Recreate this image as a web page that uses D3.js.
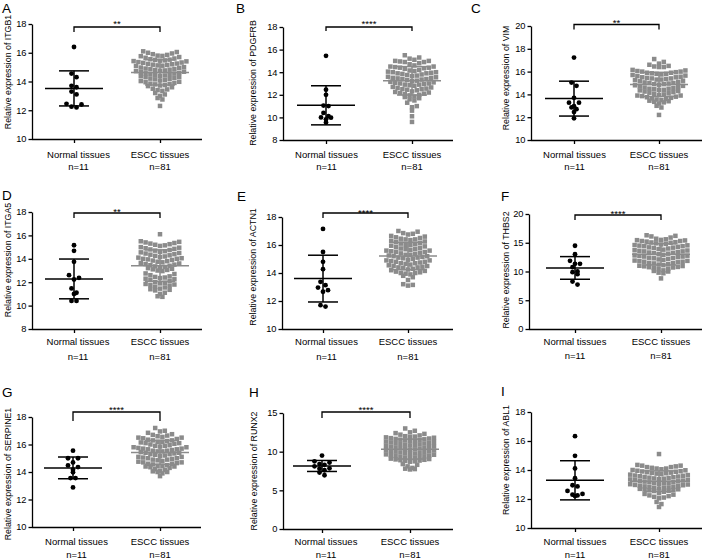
<!DOCTYPE html>
<html><head><meta charset="utf-8">
<script src="https://cdn.jsdelivr.net/npm/d3@7"></script>
<style>body{margin:0;background:#fff} svg{display:block}</style>
</head><body><svg id="c" width="703" height="559"></svg>
<script>
// ---------------- data ----------------
const panelLetters = ["A","B","C","D","E","F","G","H","I"];
const genes = ["ITGB1","PDGFRB","VIM","ITGA5","ACTN1","THBS2","SERPINE1","RUNX2","ABL1"];
const categories = ["Normal tissues","ESCC tissues"];
const sampleLabels = ["n=11","n=81"];
const significance = ["**","****","**","**","****","****","****","****",""];
const yDomains = [[10,18],[8,18],[10,20],[8,18],[10,18],[0,20],[10,18],[0,15],[10,18]];
const yTickSteps = [2,2,2,2,2,5,2,5,2];

const itgb1Normal = [16.4,14.55,14.3,13.7,13.6,13.3,13.1,12.45,12.4,12.25,12.2];
const pdgfrbNormal = [15.45,12.45,12.0,11.05,11.0,10.4,10.1,10.0,9.98,9.83,9.55];
const vimNormal = [17.23,15.04,14.75,13.7,13.27,13.27,12.97,12.86,12.7,12.45,11.9];
const itga5Normal = [15.16,14.68,13.74,12.6,12.37,12.23,11.47,11.1,11.0,10.4,10.4];
const actn1Normal = [17.15,15.5,14.8,14.27,13.37,13.13,12.96,12.77,12.66,11.7,11.6];
const thbs2Normal = [14.48,13.0,11.86,11.34,11.34,10.76,10.0,9.88,9.53,8.26,7.73];
const serpine1Normal = [15.55,15.0,15.0,14.7,14.48,14.36,14.17,13.98,13.56,13.56,12.88];
const runx2Normal = [9.5,8.75,8.6,8.4,8.3,8.1,7.85,7.8,7.6,7.3,6.95];
const abl1Normal = [16.33,14.98,14.11,13.43,12.95,12.87,12.56,12.35,12.3,12.25,12.2];

const normalMean = [13.52,11.07,13.63,12.28,13.6,10.62,14.3,8.15,13.29];
const normalSD = [1.22,1.73,1.53,1.7,1.67,1.97,0.79,0.71,1.35];

const itgb1Escc = [16.1,16.05,16.0,15.95,15.9,15.85,15.8,15.78,15.76,15.7,15.65,15.6,15.55,15.52,15.5,15.47,15.45,15.42,15.4,15.35,15.32,15.3,15.25,15.22,15.2,15.17,15.15,15.12,15.1,15.08,15.0,14.97,14.95,14.9,14.87,14.85,14.82,14.8,14.77,14.75,14.72,14.68,14.65,14.6,14.57,14.55,14.5,14.47,14.45,14.42,14.4,14.37,14.32,14.3,14.25,14.2,14.17,14.15,14.1,14.07,14.03,13.98,13.95,13.9,13.85,13.82,13.8,13.75,13.72,13.68,13.6,13.5,13.45,13.4,13.35,13.2,13.1,13.0,12.85,12.75,12.3];
const pdgfrbEscc = [15.5,15.3,15.2,15.1,15.0,15.0,14.95,14.9,14.9,14.8,14.7,14.6,14.5,14.5,14.45,14.4,14.4,14.35,14.3,14.2,14.15,14.1,14.05,14.0,14.0,13.95,13.9,13.9,13.85,13.8,13.75,13.7,13.65,13.6,13.55,13.5,13.5,13.45,13.4,13.4,13.35,13.3,13.25,13.2,13.15,13.1,13.05,13.0,13.0,12.95,12.9,12.9,12.85,12.8,12.7,12.65,12.6,12.55,12.5,12.5,12.45,12.4,12.3,12.25,12.2,12.15,12.1,12.05,12.0,11.95,11.85,11.8,11.7,11.6,11.5,11.3,11.0,10.9,10.6,10.1,9.6];
const vimEscc = [17.1,16.85,16.7,16.6,16.5,16.45,16.4,16.4,16.15,16.1,16.05,16.0,16.0,15.95,15.9,15.9,15.85,15.8,15.8,15.75,15.7,15.65,15.6,15.55,15.5,15.5,15.45,15.4,15.4,15.35,15.3,15.3,15.25,15.2,15.15,15.1,15.05,15.0,15.0,14.95,14.9,14.9,14.85,14.8,14.75,14.7,14.65,14.6,14.55,14.5,14.5,14.45,14.4,14.4,14.35,14.3,14.25,14.2,14.15,14.1,14.05,14.0,13.95,13.9,13.9,13.85,13.8,13.75,13.7,13.65,13.6,13.55,13.5,13.45,13.4,13.35,13.3,13.2,13.0,12.85,12.2];
const itga5Escc = [16.1,15.5,15.45,15.4,15.35,15.3,15.25,15.2,15.15,15.1,15.0,14.95,14.9,14.85,14.8,14.75,14.7,14.65,14.6,14.55,14.5,14.45,14.4,14.35,14.3,14.25,14.2,14.15,14.1,14.05,14.0,14.0,13.95,13.9,13.85,13.8,13.75,13.7,13.65,13.6,13.55,13.5,13.45,13.4,13.35,13.3,13.25,13.2,13.15,13.1,13.05,13.0,12.95,12.75,12.7,12.6,12.5,12.45,12.4,12.35,12.3,12.25,12.2,12.1,12.0,11.95,11.9,11.85,11.8,11.75,11.7,11.6,11.55,11.45,11.4,11.35,11.3,11.1,11.0,10.8,10.75];
const actn1Escc = [17.0,16.95,16.85,16.8,16.75,16.65,16.6,16.55,16.5,16.45,16.4,16.4,16.35,16.3,16.25,16.2,16.15,16.1,16.05,16.0,16.0,15.95,15.9,15.85,15.8,15.75,15.7,15.7,15.65,15.6,15.6,15.55,15.5,15.5,15.45,15.4,15.35,15.3,15.3,15.25,15.2,15.2,15.15,15.1,15.1,15.05,15.0,14.95,14.9,14.9,14.85,14.8,14.8,14.75,14.7,14.7,14.65,14.6,14.55,14.5,14.5,14.45,14.4,14.4,14.35,14.3,14.25,14.2,14.15,14.1,14.05,14.0,14.0,13.95,13.9,13.8,13.7,13.5,13.2,13.15,13.1];
const thbs2Escc = [16.3,16.2,16.1,15.9,15.7,15.6,15.5,15.45,15.4,15.3,15.3,15.2,15.1,15.05,15.0,14.9,14.8,14.7,14.6,14.55,14.5,14.4,14.4,14.3,14.2,14.15,14.1,14.0,13.9,13.8,13.7,13.65,13.6,13.5,13.5,13.4,13.3,13.25,13.2,13.1,13.0,12.9,12.8,12.75,12.7,12.6,12.6,12.5,12.4,12.35,12.3,12.2,12.1,12.0,11.9,11.85,11.8,11.7,11.7,11.6,11.5,11.45,11.4,11.3,11.2,11.1,11.0,10.95,10.9,10.8,10.75,10.7,10.6,10.5,10.4,10.2,10.1,10.0,9.8,9.7,8.8];
const serpine1Escc = [17.2,17.0,16.95,16.85,16.75,16.7,16.65,16.6,16.55,16.5,16.5,16.45,16.4,16.35,16.3,16.3,16.25,16.2,16.2,16.15,16.1,16.1,16.05,16.0,15.95,15.9,15.9,15.85,15.8,15.8,15.75,15.7,15.7,15.65,15.65,15.6,15.55,15.55,15.5,15.5,15.45,15.4,15.4,15.35,15.3,15.3,15.25,15.2,15.15,15.1,15.1,15.05,15.0,15.0,14.95,14.9,14.9,14.85,14.8,14.75,14.7,14.7,14.65,14.6,14.6,14.55,14.5,14.45,14.45,14.4,14.4,14.35,14.3,14.2,14.15,14.1,14.05,14.0,14.0,13.9,13.7];
const runx2Escc = [13.0,12.7,12.5,12.4,12.3,12.2,12.1,12.0,11.95,11.9,11.85,11.8,11.75,11.7,11.65,11.6,11.55,11.5,11.45,11.4,11.35,11.3,11.25,11.2,11.15,11.1,11.05,11.0,10.95,10.9,10.85,10.8,10.75,10.7,10.65,10.6,10.55,10.5,10.45,10.4,10.35,10.3,10.25,10.2,10.15,10.1,10.05,10.0,9.95,9.9,9.85,9.8,9.75,9.7,9.65,9.6,9.55,9.5,9.45,9.4,9.35,9.3,9.25,9.2,9.15,9.1,9.05,9.0,8.95,8.9,8.85,8.8,8.75,8.7,8.4,8.3,8.1,7.9,7.8,7.75,7.7];
const abl1Escc = [15.1,14.35,14.3,14.3,14.25,14.2,14.2,14.15,14.1,14.1,14.05,14.0,13.98,13.95,13.92,13.9,13.88,13.85,13.82,13.8,13.78,13.75,13.72,13.68,13.65,13.62,13.6,13.57,13.55,13.52,13.5,13.47,13.45,13.42,13.4,13.37,13.35,13.32,13.3,13.27,13.25,13.22,13.2,13.17,13.15,13.12,13.1,13.07,13.05,13.02,13.0,12.97,12.95,12.92,12.9,12.87,12.85,12.82,12.8,12.77,12.75,12.72,12.7,12.67,12.65,12.62,12.6,12.57,12.55,12.5,12.4,12.35,12.3,12.25,12.2,12.15,12.1,12.05,11.8,11.65,11.45];

const normalValues = [itgb1Normal,pdgfrbNormal,vimNormal,itga5Normal,actn1Normal,thbs2Normal,serpine1Normal,runx2Normal,abl1Normal];
const esccValues = [itgb1Escc,pdgfrbEscc,vimEscc,itga5Escc,actn1Escc,thbs2Escc,serpine1Escc,runx2Escc,abl1Escc];

// ---------------- layout ----------------
const layout = [
 {x0:32, yT:24, yB:139, xN:74, xE:160, xEnd:202, lx:2, ly:13, labX:11, labY:72, brY:27, drop:5, starY:22, catY:158, nY:170, nOff:4.5, rowE:4.8},
 {x0:283, yT:27, yB:140, xN:326, xE:412, xEnd:453, lx:236, ly:13, labX:256, labY:83, brY:27, drop:4, starY:22, catY:158, nY:170, nOff:0.5, rowE:4.8},
 {x0:531, yT:26, yB:140, xN:574, xE:659, xEnd:702, lx:471, ly:13, labX:509, labY:78, brY:24.5, drop:5, starY:21, catY:158, nY:170, nOff:0.5, rowE:4.8},
 {x0:32, yT:212, yB:329, xN:74, xE:160, xEnd:202, lx:2, ly:200, labX:11, labY:260, brY:213, drop:5, starY:210, catY:345, nY:360, nOff:4, rowE:4.8},
 {x0:282, yT:217, yB:329, xN:323, xE:408, xEnd:453, lx:237, ly:201, labX:256, labY:267, brY:213, drop:5, starY:211, catY:345, nY:360, nOff:3.5, rowE:4.8},
 {x0:529, yT:214, yB:329, xN:575, xE:661, xEnd:702, lx:501, ly:201, labX:509, labY:270, brY:215, drop:5, starY:212, catY:345, nY:359, nOff:0, rowE:4.8},
 {x0:32, yT:417, yB:527, xN:73, xE:160, xEnd:201, lx:2, ly:397, labX:11, labY:474, brY:412, drop:9, starY:408, catY:545, nY:558, nOff:3.5, rowE:4.8},
 {x0:283, yT:413, yB:529, xN:322, xE:410, xEnd:453, lx:249, ly:397, labX:257, labY:471, brY:412, drop:6, starY:408, catY:545, nY:558, nOff:4, rowE:3.9},
 {x0:531, yT:412, yB:528, xN:575, xE:659, xEnd:702, lx:501, ly:396, labX:509, labY:460, brY:null, drop:0, starY:0, catY:545, nY:558, nOff:0, rowE:4.5}
];

const FONT = "'Liberation Sans', Arial, Helvetica, sans-serif";
const GRAY = "#8b8b8b";
const svg = d3.select("#c");

function swarm(values, y, rowH, step) {
  const sorted = values.slice().sort((a, b) => b - a);
  const rows = []; let cur = null;
  for (const v of sorted) {
    if (!cur || y(v) - y(cur[0]) >= rowH) { cur = [v]; rows.push(cur); }
    else cur.push(v);
  }
  const out = [];
  rows.forEach(r => {
    const asc = r.slice().sort((a, b) => a - b);
    const n = asc.length, offs = [];
    if (n % 2) { offs.push(0); for (let k = 1; offs.length < n; k++) { offs.push(k); if (offs.length < n) offs.push(-k); } }
    else { for (let k = 0; offs.length < n; k++) { offs.push(k + 0.5); offs.push(-(k + 0.5)); } }
    asc.forEach((v, i) => out.push({ v, dx: offs[i] * step }));
  });
  return out;
}

function errorBar(g, cx, y, mean, sd, color) {
  const s = g.append("g").attr("stroke", color).attr("stroke-width", 1.5).attr("fill", "none");
  s.append("line").attr("x1", cx - 29).attr("x2", cx + 29).attr("y1", y(mean)).attr("y2", y(mean));
  s.append("line").attr("x1", cx).attr("x2", cx).attr("y1", y(mean + sd)).attr("y2", y(mean - sd));
  s.append("line").attr("x1", cx - 15).attr("x2", cx + 15).attr("y1", y(mean + sd)).attr("y2", y(mean + sd));
  s.append("line").attr("x1", cx - 15).attr("x2", cx + 15).attr("y1", y(mean - sd)).attr("y2", y(mean - sd));
}

layout.forEach((L, i) => {
  const g = svg.append("g");
  const y = d3.scaleLinear().domain(yDomains[i]).range([L.yB, L.yT]);
  const x = d3.scalePoint().domain(categories).range([L.xN, L.xE]);
  const ticks = d3.range(yDomains[i][0], yDomains[i][1] + 1e-6, yTickSteps[i]);

  // y axis
  const ga = g.append("g").attr("transform", `translate(${L.x0},0)`)
    .call(d3.axisLeft(y).tickValues(ticks).tickSize(3.5).tickSizeOuter(0).tickPadding(2).tickFormat(d3.format("d")));
  ga.attr("font-family", FONT).attr("font-size", 9.3);
  ga.select(".domain").attr("stroke-width", 1.3).attr("stroke", "#000");
  ga.selectAll(".tick line").attr("stroke-width", 1.3).attr("stroke", "#000");
  ga.selectAll(".tick text").attr("fill", "#000");

  // x axis
  g.append("line").attr("x1", L.x0).attr("x2", L.xEnd).attr("y1", L.yB + 0.5).attr("y2", L.yB + 0.5)
    .attr("stroke", "#000").attr("stroke-width", 1.3);
  const gx = g.append("g").attr("transform", `translate(0,${L.yB})`)
    .call(d3.axisBottom(x).tickSize(4).tickFormat(""));
  gx.select(".domain").remove();
  gx.selectAll(".tick line").attr("stroke-width", 1.3).attr("stroke", "#000");

  // category + n labels
  categories.forEach((c, j) => {
    const cx = x(c) + (j === 0 ? L.nOff : 0);
    g.append("text").attr("x", cx).attr("y", L.catY).attr("text-anchor", "middle")
      .attr("font-family", FONT).attr("font-size", 9.5).text(c);
    g.append("text").attr("x", cx).attr("y", L.nY).attr("text-anchor", "middle")
      .attr("font-family", FONT).attr("font-size", 9.5).text(sampleLabels[j]);
  });

  // y label
  g.append("text").attr("transform", `translate(${L.labX},${L.labY}) rotate(-90)`)
    .attr("text-anchor", "middle").attr("font-family", FONT).attr("font-size", 8.8)
    .text("Relative expression of " + genes[i]);

  // panel letter
  g.append("text").attr("x", L.lx).attr("y", L.ly).attr("font-family", FONT)
    .attr("font-size", 13.5).text(panelLetters[i]);

  // ESCC squares
  const sq = 4.5;
  const eP = swarm(esccValues[i], y, L.rowE, 4.8);
  g.append("g").selectAll("rect").data(eP).join("rect")
    .attr("x", d => x(categories[1]) + d.dx - sq / 2).attr("y", d => y(d.v) - sq / 2)
    .attr("width", sq).attr("height", sq).attr("fill", GRAY);
  const em = d3.mean(esccValues[i]), es = d3.deviation(esccValues[i]);
  errorBar(g, x(categories[1]), y, em, es, GRAY);

  // Normal circles
  const nP = swarm(normalValues[i], y, 4.5, 5);
  g.append("g").selectAll("circle").data(nP).join("circle")
    .attr("cx", d => x(categories[0]) + d.dx).attr("cy", d => y(d.v)).attr("r", 2.4).attr("fill", "#000");
  errorBar(g, x(categories[0]), y, normalMean[i], normalSD[i], "#000");

  // significance bracket
  if (significance[i]) {
    g.append("path")
      .attr("d", `M${L.xN},${L.brY + L.drop}V${L.brY}H${L.xE}V${L.brY + L.drop}`)
      .attr("fill", "none").attr("stroke", "#000").attr("stroke-width", 1.3);
    g.append("text").attr("x", (L.xN + L.xE) / 2).attr("y", L.starY + 5).attr("text-anchor", "middle")
      .attr("font-family", FONT).attr("font-size", 9.5).text(significance[i]);
  }
});
</script>
</body></html>
